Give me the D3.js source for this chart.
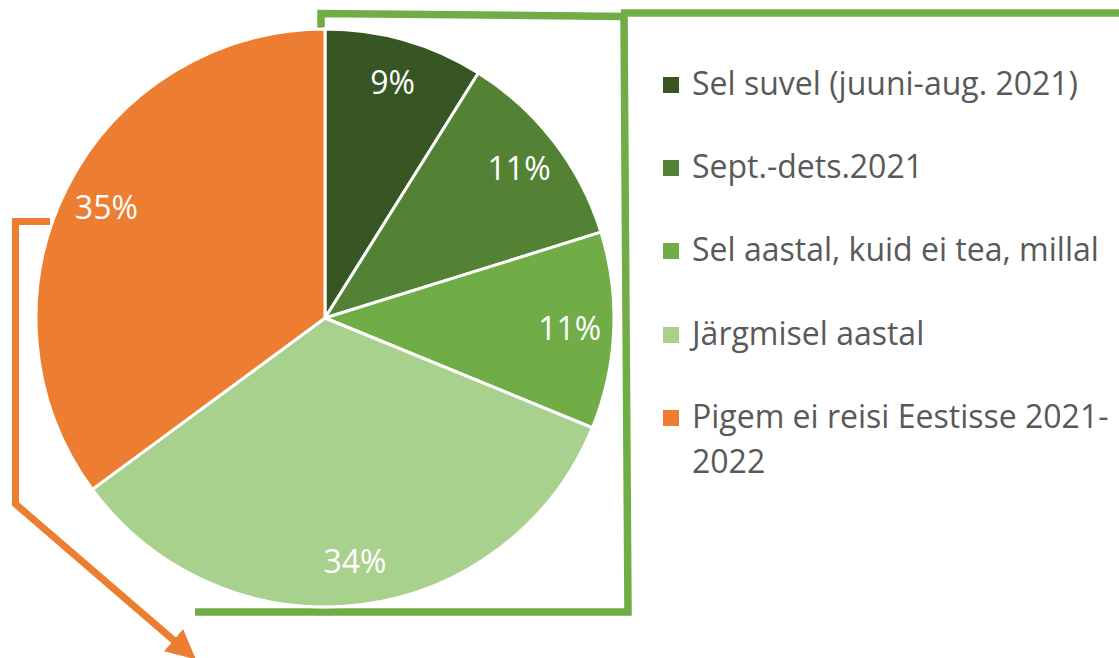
<!DOCTYPE html>
<html>
<head>
<meta charset="utf-8">
<script src="https://cdn.jsdelivr.net/npm/d3@7"></script>
<style>
  body { margin: 0; background: #fff; }
  svg { display: block; font-family: "Open Sans", "Noto Sans", sans-serif; }
</style>
</head>
<body>
<svg width="1119" height="658"></svg>
<script>
var categories = ["Sel suvel (juuni-aug. 2021)", "Sept.-dets.2021", "Sel aastal, kuid ei tea, millal", "Järgmisel aastal", "Pigem ei reisi Eestisse 2021-2022"];
var values = [8.9, 11.3, 11.0, 33.7, 35.1];
var labels = ["9%", "11%", "11%", "34%", "35%"];
var colors = ["#375623", "#548235", "#70AD47", "#A9D18E", "#ED7D31"];
// legend lines (last one wraps)
var legendLines = [["Sel suvel (juuni-aug. 2021)"], ["Sept.-dets.2021"], ["Sel aastal, kuid ei tea, millal"], ["Järgmisel aastal"], ["Pigem ei reisi Eestisse 2021-", "2022"]];

var svg = d3.select("svg");
var cx = 325, cy = 318, radius = 289;

// annotations behind the pie
var ann = svg.append("g");
ann.append("path")
    .attr("d", "M321,29 V13.5 L624,16.5 L628,612 L195,612")
    .style("fill", "none").style("stroke", "#70AD47").style("stroke-width", 7.5);
ann.append("path")
    .attr("d", "M621,13 H1119")
    .style("fill", "none").style("stroke", "#70AD47").style("stroke-width", 7.5);

svg.append("defs").append("marker")
    .attr("id", "head")
    .attr("viewBox", "0 0 10 10")
    .attr("refX", 2).attr("refY", 5)
    .attr("markerWidth", 4.2).attr("markerHeight", 4.2)
    .attr("orient", "auto")
  .append("path")
    .attr("d", "M0,0 L10,5 L0,10 Z")
    .style("fill", "#ED7D31");

ann.append("path")
    .attr("d", "M50,221.5 H15.5 V504 L178,644")
    .attr("marker-end", "url(#head)")
    .style("fill", "none").style("stroke", "#ED7D31").style("stroke-width", 7)
    .style("stroke-linejoin", "miter");

// pie
var pie = d3.pie().sort(null).value(function(d) { return d; });
var arc = d3.arc().innerRadius(0).outerRadius(radius);
var labelArc = d3.arc().innerRadius(245).outerRadius(245);

var g = svg.append("g").attr("transform", "translate(" + cx + "," + cy + ")");
var arcs = pie(values);

g.selectAll(".slice")
    .data(arcs)
  .enter().append("path")
    .attr("class", "slice")
    .attr("d", arc)
    .style("fill", function(d, i) { return colors[i]; })
    .style("stroke", "#fff")
    .style("stroke-width", 3);

g.selectAll(".lbl")
    .data(arcs)
  .enter().append("text")
    .attr("class", "lbl")
    .attr("transform", function(d) { return "translate(" + labelArc.centroid(d) + ")"; })
    .attr("text-anchor", "middle")
    .attr("dy", "0.36em")
    .style("fill", "#fff")
    .style("font-size", "32px")
    .text(function(d, i) { return labels[i]; });

// legend
var legend = svg.append("g");
var baselines = [95, 178, 261, 345, 428];
legendLines.forEach(function(lines, i) {
    legend.append("rect")
        .attr("x", 663).attr("y", baselines[i] - 18)
        .attr("width", 16).attr("height", 16)
        .style("fill", colors[i]);
    var t = legend.append("text")
        .attr("x", 692).attr("y", baselines[i])
        .style("fill", "#595959")
        .style("font-size", "32px");
    lines.forEach(function(line, j) {
        t.append("tspan")
            .attr("x", 692)
            .attr("dy", j == 0 ? 0 : 45)
            .text(line);
    });
});
</script>
</body>
</html>
